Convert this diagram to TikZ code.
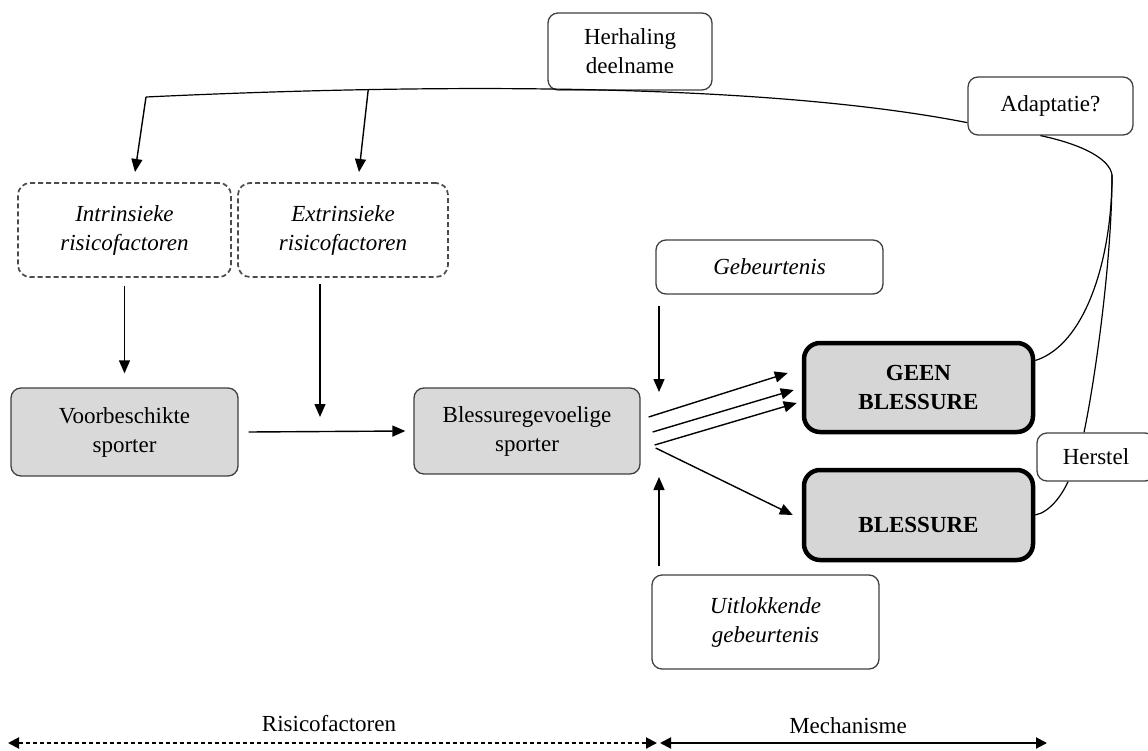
\documentclass[tikz,border=0pt]{standalone}
\usepackage{fontspec}
\setmainfont{Liberation Serif}
\usetikzlibrary{arrows.meta,calc}
\begin{document}
\begin{tikzpicture}[x=1pt,y=-1pt,
  every node/.style={font=\fontsize{23}{29}\selectfont, align=center, inner sep=0pt},
  plainbox/.style={draw=black!75, line width=1.3pt, rounded corners=10pt, fill=white},
  itbox/.style={plainbox, font=\fontsize{23}{29}\selectfont\itshape},
  greybox/.style={plainbox, fill=black!15},
  heavybox/.style={draw=black, line width=4.5pt, rounded corners=16pt, fill=black!16, font=\fontsize{23}{29}\selectfont\bfseries},
  dashbox/.style={draw=black!70, line width=1.7pt, dash pattern=on 5pt off 3pt, rounded corners=12pt, font=\fontsize{23}{29}\selectfont\itshape},
  arr/.style={line width=1.4pt, -{Triangle[length=13pt,width=11pt]}},
  link/.style={line width=1.2pt},
  span/.style={line width=2pt, {Triangle[length=11pt,width=11pt]}-{Triangle[length=11pt,width=11pt]}}]
\useasboundingbox (0,0) rectangle (1148,751);

% nodes
\node[plainbox, minimum width=164pt, minimum height=77pt] (herh) at (630,51.5) {Herhaling\\deelname};
\node[plainbox, minimum width=165pt, minimum height=58pt] (adapt) at (1050.5,106) {\raisebox{4pt}{Adaptatie?}};
\node[dashbox, minimum width=213pt, minimum height=94pt] (intr) at (124.5,230) {Intrinsieke\\risicofactoren};
\node[dashbox, minimum width=210pt, minimum height=94pt] (extr) at (343,230) {Extrinsieke\\risicofactoren};
\node[itbox, minimum width=227pt, minimum height=54pt] (geb) at (769.5,267) {Gebeurtenis};
\node[greybox, minimum width=227pt, minimum height=88pt] (voor) at (124.5,432) {Voorbeschikte\\sporter};
\node[greybox, minimum width=226pt, minimum height=86pt] (bless) at (527,431) {Blessuregevoelige\\sporter};
\node[heavybox, minimum width=229pt, minimum height=89pt] (geen) at (918.5,387.5) {GEEN\\BLESSURE};
\node[heavybox, minimum width=229pt, minimum height=90pt,
      label={[font=\fontsize{23}{29}\selectfont\bfseries, yshift=-10pt]center:BLESSURE}] (bl) at (918.5,515) {};
\node[plainbox, minimum width=118pt, minimum height=48pt] (herst) at (1096,457) {Herstel};
\node[itbox, minimum width=227pt, minimum height=94pt] (uit) at (765.5,622) {Uitlokkende\\gebeurtenis};

% coordinates
\coordinate (j1) at (146,97);
\coordinate (i1) at (135,172);
\coordinate (i2) at (359,172);
\coordinate (e2) at (320,417);
\coordinate (g2) at (659,392);
\coordinate (u2) at (659,477);
\coordinate (k) at (1112,175);

% top loop
\draw[link] (j1) .. controls (400,85) and (750,80) .. coordinate[pos=0.27] (j2) ($(adapt.south west)+(0,-13)$);
\draw[arr] (j1) -- (i1);
\draw[arr] (j2) -- (i2);

% vertical arrows
\draw[arr] ([yshift=-8pt]intr.south) -- ([yshift=14pt]voor.north);
\draw[arr] ([xshift=-23pt,yshift=-6pt]extr.south) -- (e2);
\draw[arr] ([xshift=10pt]voor.east) -- ([xshift=-8pt]bless.west);
\draw[arr] ([xshift=-110.5pt,yshift=-11pt]geb.south) -- (g2);
\draw[arr] ([xshift=-106.5pt,yshift=8pt]uit.north) -- (u2);

% fan
\draw[arr] ([xshift=8pt,yshift=14pt]bless.east) -- ([xshift=-14pt,yshift=14.5pt]geen.west);
\draw[arr] ([xshift=12pt,yshift=-1pt]bless.east) -- ([xshift=-8pt,yshift=-2.5pt]geen.west);
\draw[arr] ([xshift=14pt,yshift=-14pt]bless.east) -- ([xshift=-5pt,yshift=-15.5pt]geen.west);
\draw[arr] ([xshift=15pt,yshift=-17pt]bless.east) -- ([xshift=-9pt]bl.west);

% right curves
\draw[link] ([yshift=27pt]geen.east) .. controls (1085,345) and (1112,260) .. (k)
  .. controls (1110,160) and (1085,145) .. ([xshift=-10pt]adapt.south);
\draw[link] ([xshift=-12pt]herst.north) .. controls (1095,380) and (1112,260) .. (k);
\draw[link] (bl.east) .. controls (1050,512) and (1062,495) .. ([xshift=-28pt]herst.south);

% bottom spans
\coordinate (r1) at (8,743);
\coordinate (r2) at (657,743);
\coordinate (m1) at (660,743);
\coordinate (m2) at (1047,743);
\draw[span, dash pattern=on 4pt off 3pt] (r1) -- (r2);
\draw[span] (m1) -- (m2);
\node (risk) at (329,724) {Risicofactoren};
\node (mech) at (848,726) {Mechanisme};
\end{tikzpicture}
\end{document}
